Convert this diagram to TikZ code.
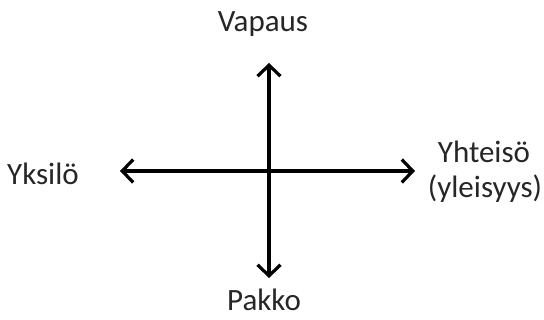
\documentclass[tikz,border=0pt]{standalone}
\usepackage{fontspec}
\setmainfont{Carlito}
\usetikzlibrary{arrows.meta}
\begin{document}
\begin{tikzpicture}[x=1pt,y=-1pt,
  axis/.style={line width=3.2pt,black,{Straight Barb[length=11pt,width=23pt,line width=3.2pt]}-{Straight Barb[length=11pt,width=23pt,line width=3.2pt]}},
  lbl/.style={font=\fontsize{31}{36}\selectfont,inner sep=0pt,anchor=base,text=black!85}]
\useasboundingbox (0,0) rectangle (544,320);
\coordinate (top) at (269,63);
\coordinate (bottom) at (269,278);
\coordinate (left) at (120,171);
\coordinate (right) at (415,171);
\draw[axis] (bottom) -- (top);
\draw[axis] (left) -- (right);
\node[lbl] (vapaus) at (263,32) {Vapaus};
\node[lbl] (pakko) at (264,311) {Pakko};
\node[lbl] (yksilo) at (43,185) {Yksilö};
\node[lbl] (yhteiso) at (484,163) {Yhteisö};
\node[lbl] (yleisyys) at (485,198) {(yleisyys)};
\end{tikzpicture}
\end{document}
